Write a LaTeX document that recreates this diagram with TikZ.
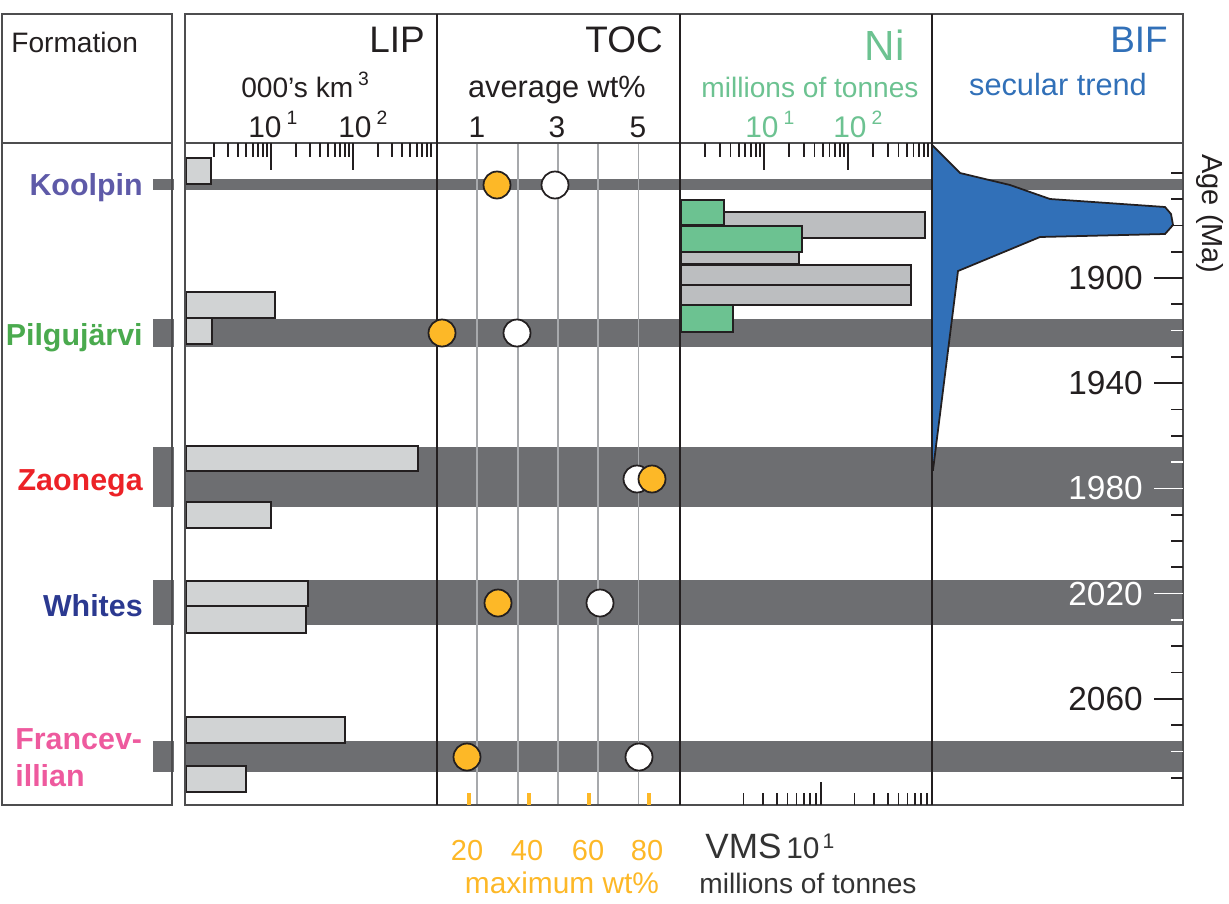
\documentclass[tikz,border=0pt]{standalone}
\usepackage{fontspec}
\setmainfont{Liberation Sans}
\usepackage{xcolor}
\usepackage{tikz}
\usetikzlibrary{calc}
\usetikzlibrary{positioning}

\definecolor{textblack}{HTML}{231F20}
\definecolor{textdark}{HTML}{333333}
\definecolor{framegray}{HTML}{4D4D4F}
\definecolor{bandgray}{HTML}{6D6E71}
\definecolor{lipgray}{HTML}{D1D3D4}
\definecolor{vmsgray}{HTML}{BCBEC0}
\definecolor{gridgray}{HTML}{A7A9AC}
\definecolor{nigreen}{HTML}{6CC291}
\definecolor{bifblue}{HTML}{3170B8}
\definecolor{tocorange}{HTML}{FDB827}
\definecolor{koolpincol}{HTML}{5E5AA8}
\definecolor{pilgucol}{HTML}{4AAA4E}
\definecolor{zaonegacol}{HTML}{EC2227}
\definecolor{whitescol}{HTML}{2B3990}
\definecolor{francecol}{HTML}{EE5A9E}

\newcommand{\upnum}[1]{\raisebox{0.8ex}{\fontsize{11}{13}\selectfont #1}}

\tikzset{>=latex}
\tikzstyle{frame} = [draw = framegray, line width = 1.1pt]
\tikzstyle{divider} = [draw = textblack, line width = 1.1pt]
\tikzstyle{tick} = [draw = textblack, line width = 1pt]
\tikzstyle{tocgrid} = [draw = gridgray, line width = 1.1pt]
\tikzstyle{lipbar} = [draw = textblack, fill = lipgray, line width = 1pt]
\tikzstyle{vmsbar} = [draw = textblack, fill = vmsgray, line width = 1pt]
\tikzstyle{nibar} = [draw = textblack, fill = nigreen, line width = 1pt]
\tikzstyle{avgdot} = [circle, draw = textblack, fill = white, line width = 1pt, minimum size = 0.54cm, inner sep = 0]
\tikzstyle{maxdot} = [avgdot, fill = tocorange]
\tikzstyle{coltitle} = [anchor = base east, inner sep = 0, text = textblack, font = \fontsize{21}{25}\selectfont]
\tikzstyle{colsub} = [anchor = base, inner sep = 0, text = textblack, font = \fontsize{16}{19}\selectfont]
\tikzstyle{axnum} = [anchor = base west, inner sep = 0, text = textblack, font = \fontsize{17}{20}\selectfont]
\tikzstyle{fmname} = [anchor = base east, inner sep = 0, font = \fontsize{17.3}{21}\selectfont\bfseries]
\tikzstyle{agenum} = [anchor = east, inner sep = 0, text = textblack, font = \fontsize{19}{22}\selectfont]
\tikzstyle{maxnum} = [anchor = base, inner sep = 0, text = tocorange, font = \fontsize{16.5}{20}\selectfont]

\begin{document}
\begin{tikzpicture}[x = 0.02cm, y = -0.02cm]
\useasboundingbox (0,0) rectangle (1229,903);

% formation bands
\foreach \t/\b in {179/190, 319/347, 447/507, 580/625, 741/772} {
  \fill [bandgray] (153,\t) rectangle (174,\b);
  \fill [bandgray] (185,\t) rectangle (1183,\b);
}

% TOC grid
\foreach \v in {1,...,5}
  \draw [tocgrid] ({437+40.3*\v},143) -- ({437+40.3*\v},805);

% BIF secular trend
\draw [fill = bifblue, draw = textblack, line width = 1pt]
  (932,145) -- (960,173) -- (1010,185) -- (1050,199) -- (1165,207) -- (1171,214)
  -- (1173,225) -- (1165,234) -- (1040,237) -- (958,271) -- (933,470) -- (932,470) -- cycle;

% LIP bars
\draw [lipbar] (186,158) rectangle (211,184);
\draw [lipbar] (186,292) rectangle (275,318);
\draw [lipbar] (186,318) rectangle (212,344);
\draw [lipbar] (186,446) rectangle (418,471);
\draw [lipbar] (186,502) rectangle (271,528);
\draw [lipbar] (186,581) rectangle (308,606);
\draw [lipbar] (186,606) rectangle (306,633);
\draw [lipbar] (186,717) rectangle (345,743);
\draw [lipbar] (186,766) rectangle (246,792);

% Ni and VMS bars
\draw [vmsbar] (681,212) rectangle (925,238);
\draw [nibar] (681,200) rectangle (724,225);
\draw [vmsbar] (681,240) rectangle (799,264);
\draw [nibar] (681,226) rectangle (802,252);
\draw [vmsbar] (681,265) rectangle (911,285);
\draw [vmsbar] (681,285) rectangle (911,305);
\draw [nibar] (681,305) rectangle (733,332);

% frames
\draw [frame] (2,14) rectangle (172,805);
\draw [frame] (2,143) -- (172,143);
\draw [frame] (185,14) rectangle (1183,805);
\draw [frame] (185,143) -- (1183,143);
\foreach \x in {437,680,932}
  \draw [divider] (\x,14) -- (\x,805);

% log axes
\foreach \d in {0,1,2} \foreach \m in {2,...,9}
  \draw [tick] ({189+82*(\d+log10(\m))},143) -- ++(0,14);
\draw [tick] (271,143) -- ++(0,27);
\draw [tick] (353,143) -- ++(0,27);
\foreach \d in {0,1,2} \foreach \m in {2,...,9}
  \draw [tick] ({680+84*(\d+log10(\m))},143) -- ++(0,14);
\draw [tick] (764,143) -- ++(0,27);
\draw [tick] (848,143) -- ++(0,27);
\foreach \d in {0,1} \foreach \m in {2,...,9}
  \draw [tick] ({710+111*(\d+log10(\m))},805) -- ++(0,-12);
\draw [tick] (821,805) -- ++(0,-23);
\foreach \x in {469,529,589,649}
  \fill [tocorange] (\x-2,793) rectangle (\x+2,805);

% age axis
\foreach \a in {1860,1870,1880,1890,1910,1930,1950,1960,1990,2000,2010,2040,2050,2070,2090}
  \draw [tick] (1183,{278+2.63*(\a-1900)}) -- ++(-12,0);
\foreach \a in {1920,1970,2030,2080}
  \draw [tick, draw = white] (1183,{278+2.63*(\a-1900)}) -- ++(-12,0);
\foreach \a in {1900,1940,2060}
  \draw [tick] (1183,{278+2.63*(\a-1900)}) -- ++(-29,0);
\foreach \a in {1980,2020}
  \draw [tick, draw = white] (1183,{278+2.63*(\a-1900)}) -- ++(-29,0);
\node [agenum] (a1900) at (1143,278) {1900};
\node [agenum] (a1940) at (1143,383) {1940};
\node [agenum, text = white] (a1980) at (1143,488) {1980};
\node [agenum, text = white] (a2020) at (1143,594) {2020};
\node [agenum] (a2060) at (1143,699) {2060};
\node [rotate = -90, inner sep = 0, text = textblack, font = \fontsize{16.5}{20}\selectfont] (agelabel) at (1210,214) {Age (Ma)};

% TOC dots
\node [maxdot] (koolmax) at (497,185) {};
\node [avgdot] (koolavg) at (555,185) {};
\node [maxdot] (pilgumax) at (442,333) {};
\node [avgdot] (pilguavg) at (517,333) {};
\node [avgdot] (zaoavg) at (637,479) {};
\node [maxdot] (zaomax) at (652,479) {};
\node [maxdot] (whitesmax) at (498,603) {};
\node [avgdot] (whitesavg) at (600,603) {};
\node [maxdot] (francemax) at (467,757) {};
\node [avgdot] (franceavg) at (639,757) {};

% header
\node [anchor = base west, inner sep = 0, text = textblack, font = \fontsize{16}{19}\selectfont] (formhead) at (11,52) {Formation};
\node [coltitle] (liptitle) at (425,52) {LIP};
\node [colsub, anchor = base west] (lipunit) at (241,97) {000's km\,\upnum{3}};
\node [axnum] (lip10) at (248,137) {10\,\upnum{1}};
\node [axnum] (lip100) at (338,137) {10\,\upnum{2}};
\node [coltitle] (toctitle) at (663,52) {TOC};
\node [colsub, font = \fontsize{17.5}{21}\selectfont] (tocunit) at (557,97) {average wt\%};
\node [axnum, anchor = base] (toc1) at (477,137) {1};
\node [axnum, anchor = base] (toc3) at (557,137) {3};
\node [axnum, anchor = base] (toc5) at (638,137) {5};
\node [coltitle, text = nigreen, font = \fontsize{24}{28}\selectfont] (nititle) at (905,60) {Ni};
\node [colsub, text = nigreen] (niunit) at (810,97) {millions of tonnes};
\node [axnum, text = nigreen] (ni10) at (745,137) {10\,\upnum{1}};
\node [axnum, text = nigreen] (ni100) at (833,137) {10\,\upnum{2}};
\node [coltitle, text = bifblue] (biftitle) at (1168,52) {BIF};
\node [colsub, text = bifblue, font = \fontsize{17.5}{21}\selectfont] (bifunit) at (1058,95) {secular trend};

% formations
\node [fmname, text = koolpincol] (koolpin) at (143,195) {Koolpin};
\node [fmname, text = pilgucol] (pilgu) at (143,345) {Pilgujärvi};
\node [fmname, text = zaonegacol] (zaonega) at (143,490) {Zaonega};
\node [fmname, text = whitescol] (whites) at (143,616) {Whites};
\node [fmname, anchor = base west, text = francecol] (france) at (15,749) {Francev-};
\node [fmname, anchor = base west, text = francecol] (france2) at (15,786) {illian};

% bottom scales
\foreach \v/\x in {20/467,40/527,60/588,80/647}
  \node [maxnum] (max\v) at (\x,860) {\v};
\node [maxnum, font = \fontsize{17}{20}\selectfont] (maxlabel) at (562,893) {maximum wt\%};
\node [anchor = base west, inner sep = 0, text = textdark] (vmslabel) at (705,858) {{\fontsize{20}{24}\selectfont VMS} {\fontsize{17}{20}\selectfont 10}\,\raisebox{1ex}{\fontsize{12}{14}\selectfont 1}};
\node [anchor = base, inner sep = 0, text = textdark, font = \fontsize{16}{19}\selectfont] (vmsunit) at (808,893) {millions of tonnes};
\end{tikzpicture}
\end{document}
